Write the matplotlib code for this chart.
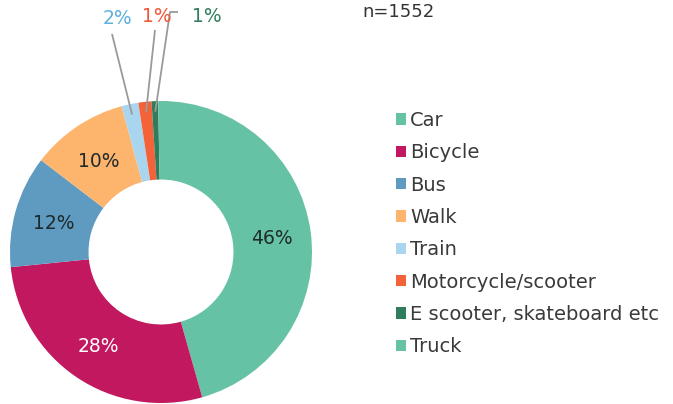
import matplotlib
matplotlib.use("Agg")
from matplotlib import pyplot as plt
from matplotlib.patches import Patch
import numpy as np

plt.rcParams['font.family'] = ['DejaVu Sans']

# share of respondents (%), n=1552
modes = ['Car', 'Bicycle', 'Bus', 'Walk', 'Train', 'Motorcycle/scooter',
         'E scooter, skateboard etc', 'Truck']
shares = [45.6, 27.8, 12.0, 10.4, 1.8, 1.4, 0.7, 0.3]
colors = ['#66c2a5', '#c2185f', '#5f9ac0', '#fdb56e', '#a9d6ee', '#f4623a',
          '#2f7d5c', '#66c2a5']
n_total = 1552

W, H = 673, 404
fig = plt.figure(figsize=(W / 100, H / 100), dpi=100)
ax = fig.add_axes([0, 0, 1, 1])

cx, cy, R = 161, H - 252, 151
wedges, _ = ax.pie(shares, colors=colors, startangle=90, counterclock=False,
                   radius=R, center=(cx, cy),
                   wedgeprops=dict(width=R * 0.52, linewidth=0))
ax.set_xlim(0, W)
ax.set_ylim(0, H)
ax.axis('off')

pcts = [f'{round(v):.0f}%' for v in shares]

# labels inside the ring for the big slices
inside_col = ['#1f2a2a', 'white', '#1f2a2a', '#1f2a2a']
for i in range(4):
    w = wedges[i]
    a = np.deg2rad((w.theta1 + w.theta2) / 2)
    r = R * 0.74
    ax.text(cx + r * np.cos(a), cy + r * np.sin(a) - 2, pcts[i], ha='center',
            va='center', fontsize=13.5, color=inside_col[i])

# small slices: labels above with leader lines
lab_xy = [(117, 18), (157, 17), (207, 17)]
line_top = [(112, 34), (155, 30), (170, 12)]
lab_col = ['#5fb0dd', '#f0563a', '#2f7d5c']
for k, i in enumerate([4, 5, 6]):
    w = wedges[i]
    a = np.deg2rad((w.theta1 + w.theta2) / 2)
    r = R * 0.93
    x0, y0 = cx + r * np.cos(a), cy + r * np.sin(a)
    tx, ty = line_top[k]
    xs, ys = [x0, tx], [y0, H - ty]
    if k == 2:
        xs.append(tx + 8)
        ys.append(H - ty)
    ax.plot(xs, ys, color='#9a9a9a', lw=1.3, solid_capstyle='butt')
    lx, ly = lab_xy[k]
    ax.text(lx, H - ly, pcts[i], ha='center', va='center', fontsize=13.5,
            color=lab_col[k])

ax.text(362, H - 12, f'n={n_total}', ha='left', va='center', fontsize=13,
        color='#333333')

handles = [Patch(facecolor=c, edgecolor='none') for c in colors]
fig.legend(handles, modes, loc='upper left', bbox_to_anchor=(396 / W, 1 - 111 / H),
           frameon=False, fontsize=14, handlelength=0.52, handleheight=0.52,
           handletextpad=0.2, labelspacing=0.685, borderpad=0, borderaxespad=0,
           labelcolor='#3a3a3a')

fig.savefig('out.png', dpi=100)
